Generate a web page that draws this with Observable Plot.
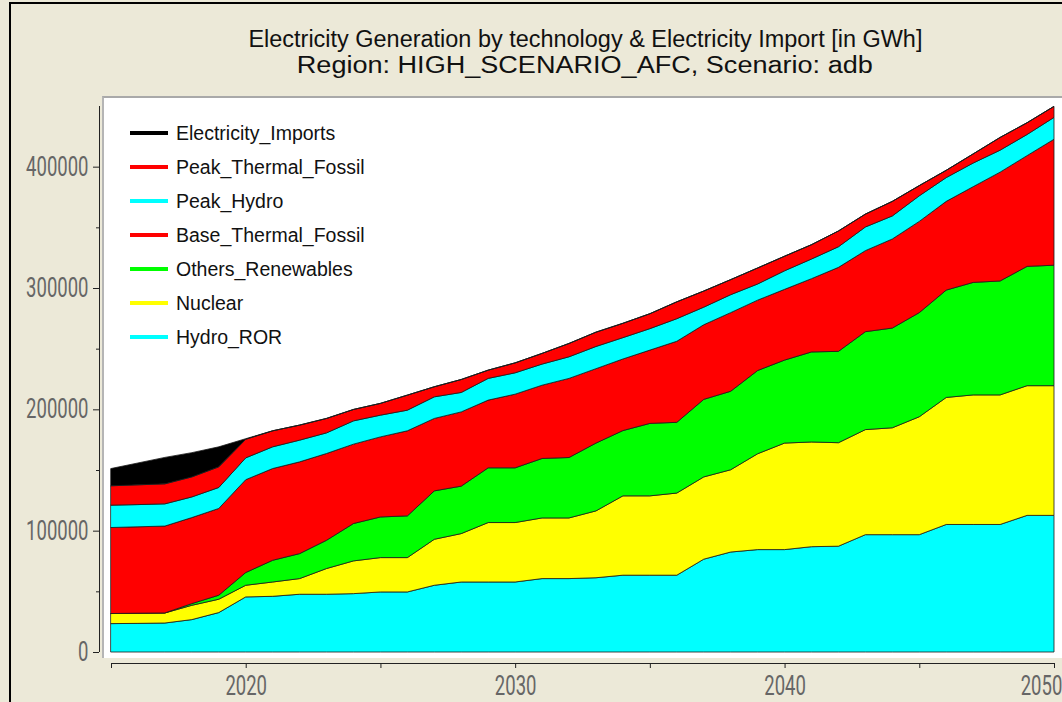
<!DOCTYPE html>
<html><head><meta charset="utf-8">
<script src="https://cdn.jsdelivr.net/npm/d3@7"></script>
<script src="https://cdn.jsdelivr.net/npm/@observablehq/plot@0.6"></script>
<style>
html,body{margin:0;padding:0;}
body{width:1062px;height:702px;overflow:hidden;background:#ECE9D8;position:relative;font-family:"Liberation Sans",Arial,sans-serif;}
#frame{position:absolute;left:9px;top:2px;width:1100px;height:800px;border:2px solid #000;box-sizing:border-box;}
#title{position:absolute;left:0;top:26px;width:1170px;text-align:center;color:#111;font-size:23px;line-height:26px;}
#title span{display:inline-block;transform-origin:center;white-space:nowrap;}
#plotbg{position:absolute;left:102px;top:96px;width:1000px;height:562px;background:#fff;border-top:2px solid #a9a9a9;border-left:2px solid #b5b5b5;box-sizing:border-box;}
#chart{position:absolute;left:0;top:90px;}
#legend{position:absolute;left:130px;top:116px;}
.item{display:flex;align-items:center;height:34px;}
.sw{width:38px;height:4px;margin-right:8px;}
.lab{font-size:19.5px;color:#111;white-space:nowrap;}
</style>
</head>
<body>
<div id="frame"></div>
<div id="title">
  <div><span id="t1">Electricity Generation by technology &amp; Electricity Import [in GWh]</span></div>
  <div><span id="t2">Region: HIGH_SCENARIO_AFC, Scenario: adb</span></div>
</div>
<div id="plotbg"></div>
<div id="chart"></div>
<div id="legend"></div>
<script>
// ---- data ----
const years = [2015,2016,2017,2018,2019,2020,2021,2022,2023,2024,2025,2026,2027,2028,2029,2030,2031,2032,2033,2034,2035,2036,2037,2038,2039,2040,2041,2042,2043,2044,2045,2046,2047,2048,2049,2050];

const seriesNames = ["Hydro_ROR","Nuclear","Others_Renewables","Base_Thermal_Fossil","Peak_Hydro","Peak_Thermal_Fossil","Electricity_Imports"];
const seriesColors = ["#00FFFF","#FFFF00","#00FF00","#FF0000","#00FFFF","#FF0000","#000000"];

const hydroROR = [23400,23600,23900,26700,32500,45400,45900,47600,47600,48100,49500,49500,55000,57700,57700,57700,60500,60500,61200,63300,63300,63300,76500,82400,84400,84400,86800,87200,96700,96700,96700,105100,105100,105100,112600,112600];
const nuclear = [8300,8400,8300,11800,11000,9600,11800,12900,21200,27000,28300,28300,37900,39900,49000,49000,50000,50000,55100,65400,65400,67700,67800,67800,79000,87800,86300,85300,86600,88100,97200,104700,106800,106800,106900,106900];
const othersRenewables = [0,0,0,1400,3300,10500,17900,20600,23300,30800,33500,34400,39900,39100,45100,45100,49000,49800,55900,53800,59700,58300,63900,64700,68600,68400,74200,75300,80700,82200,85800,88500,92700,93900,98300,99300];
const baseThermal = [70900,71200,71600,70900,71500,76500,75600,75600,71500,65400,66000,70100,59700,61200,55800,60700,60400,65200,61300,59000,60400,66800,61500,64800,58000,58300,60400,69200,66800,73400,75200,73100,78900,89700,91300,103800];
const peakHydro = [18400,18300,18300,17000,17300,18000,17900,17900,17000,19200,17900,17000,17800,16000,17900,17600,17400,17800,18300,17600,17700,18600,14500,14800,13300,15300,16200,17000,19500,19000,21100,19600,19500,18100,17400,18000];
const peakThermal = [16000,16300,16500,16500,17000,15300,13200,12400,11900,9400,9700,12400,8300,10700,6800,8200,8800,11000,11800,11800,12300,13900,13300,12400,13200,12000,11800,13000,10600,12000,8400,6000,7500,10500,9700,9100];
const imports = [14200,18000,21800,20000,16500,500,0,0,0,0,0,0,0,0,0,0,0,0,0,0,0,0,0,0,0,0,0,0,0,0,0,0,0,0,0,0];

const yMajorTicks = [0,100000,200000,300000,400000];
const yMinorTicks = [50000,150000,250000,350000];
const xTicks = [2015,2020,2025,2030,2035,2040,2045,2050];
const xLabels = [2020,2030,2040];
const xLastLabel = [2050];

const seriesValues = [hydroROR, nuclear, othersRenewables, baseThermal, peakHydro, peakThermal, imports];
const data = [];
seriesNames.forEach((s, k) => years.forEach((yr, i) => data.push({year: yr, series: s, value: seriesValues[k][i]})));

const axisFont = "Roboto, 'DejaVu Sans', sans-serif";
const chart = Plot.plot({
  width: 1062, height: 612,
  marginLeft: 111, marginRight: 8, marginTop: 16, marginBottom: 50,
  style: {background: "transparent", overflow: "visible"},
  x: {domain: [years[0], years[years.length - 1]]},
  y: {domain: [0, 450000]},
  color: {domain: seriesNames, range: seriesColors},
  marks: [
    Plot.areaY(data, {x: "year", y: "value", z: "series", fill: "series", order: seriesNames, stroke: "#1a1a1a", strokeWidth: 0.8}),
    Plot.ruleX([years[0]], {y1: 0, y2: 450000, dx: -12, stroke: "#222"}),
    Plot.axisY({ticks: yMajorTicks, tickSize: 6, tickPadding: 5, dx: -12, tickFormat: d => String(d), fontSize: 27, fontFamily: axisFont, fill: "#666", stroke: "#222", label: null}),
    Plot.axisY({ticks: yMinorTicks, tickSize: 3, dx: -12, tickFormat: () => "", stroke: "#222", label: null}),
    Plot.ruleY([0], {x1: years[0], x2: years[years.length - 1], dy: 11, stroke: "#222"}),
    Plot.axisX({ticks: xTicks, tickSize: 5, tickPadding: 7, dy: 11, tickFormat: d => xLabels.includes(d) ? String(d) : "", fontSize: 27, fontFamily: axisFont, fill: "#666", stroke: "#222", label: null}),
    Plot.axisX({ticks: xLastLabel, tickSize: 0, tickPadding: 12, dy: 11, dx: -13, tickFormat: d => String(d), fontSize: 27, fontFamily: axisFont, fill: "#666", label: null})
  ]
});
document.getElementById("chart").appendChild(chart);

// condense the axis digits horizontally (reference uses a narrow face)
d3.select(chart).selectAll('g[aria-label$="tick label"] text').each(function() {
  const s = this.textContent;
  if (!s) return;
  this.setAttribute("textLength", (10.4 * s.length).toFixed(1));
  this.setAttribute("lengthAdjust", "spacingAndGlyphs");
});

// legend (top to bottom = reverse stack order)
const legend = d3.select("#legend");
seriesNames.slice().reverse().forEach((s, i) => {
  const c = seriesColors[seriesNames.length - 1 - i];
  const it = legend.append("div").attr("class", "item");
  it.append("div").attr("class", "sw").style("background", c);
  it.append("div").attr("class", "lab").text(s);
});

// fit title widths
[["t1", 674], ["t2", 576]].forEach(([id, w]) => {
  const el = document.getElementById(id);
  const m = el.getBoundingClientRect().width;
  el.style.transform = `scaleX(${w / m})`;
});
</script>
</body></html>
